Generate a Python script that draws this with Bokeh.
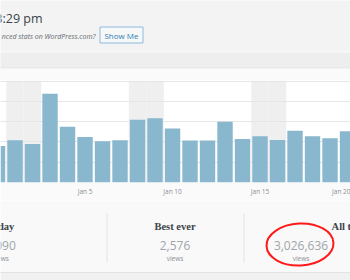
from bokeh.plotting import figure
from bokeh.layouts import column
from bokeh.models import Range1d, FixedTicker, BoxAnnotation, Label, Grid
from bokeh.core.properties import value
from bokeh.embed import file_html
from bokeh.resources import INLINE

# ---- data ----
days = ["Dec 31", "Jan 1", "Jan 2", "Jan 3", "Jan 4", "Jan 5", "Jan 6", "Jan 7",
        "Jan 8", "Jan 9", "Jan 10", "Jan 11", "Jan 12", "Jan 13", "Jan 14",
        "Jan 15", "Jan 16", "Jan 17", "Jan 18", "Jan 19", "Jan 20"]
views = [900, 1042, 950, 2192, 1375, 1125, 1017, 1042, 1550, 1585, 1335,
         1035, 1035, 1500, 1075, 1142, 1050, 1275, 1142, 1092, 1267]
weekend_days = ["Jan 1", "Jan 2", "Jan 8", "Jan 9", "Jan 15", "Jan 16"]
tick_days = ["Dec 31", "Jan 5", "Jan 10", "Jan 15", "Jan 20"]
y_ticks = [0, 500, 1000, 1500, 2000, 2500]

header_time = "3:29 pm"
promo_text = "nced stats on WordPress.com?"
button_text = "Show Me"
summary_titles = ["Today", "Best ever", "All time"]
summary_values = ["1,090", "2,576", "3,026,636"]
summary_units = ["views", "views", "views"]

W = 350
FONT = value("Open Sans")

# ---- header strip ----
h = figure(width=W, height=80, x_range=Range1d(0, W), y_range=Range1d(80, 0),
           toolbar_location=None, output_backend="svg", min_border=0,
           x_axis_location=None, y_axis_location=None)
h.grid.visible = False
h.outline_line_color = None
h.background_fill_color = "#f3f3f3"
h.border_fill_color = "#f3f3f3"
h.quad(left=[0, 0, 0, 0], right=[W] * 4, top=[51, 52, 67, 68], bottom=[52, 67, 68, 80],
       fill_color=["#ffffff", "#eeeeee", "#e2e2e2", "#fafafa"], line_color=None)
h.text(x=[42], y=[17.5], text=[header_time], text_align="right", text_baseline="alphabetic",
       text_font=FONT, text_font_size=value("12.5px"), text_color="#3c434a")
h.text(x=[95], y=[36], text=[promo_text], text_align="right", text_baseline="alphabetic",
       text_font=FONT, text_font_style="italic", text_font_size=value("7px"),
       text_color="#646970")
h.quad(left=[99.5], right=[142.5], top=[26.5], bottom=[42.5], fill_color="#f6f7f7",
       line_color="#8dbbe0", line_width=1)
h.text(x=[121], y=[34.5], text=[button_text], text_align="center", text_baseline="middle",
       text_font=FONT, text_font_size=value("8px"), text_color="#2e7fb3")

# ---- chart ----
idx = list(range(len(days)))
c = figure(width=W, height=120, x_range=Range1d(0.17, 20.17), y_range=Range1d(0, 2517),
           toolbar_location=None, output_backend="svg",
           min_border_left=0, min_border_right=0, min_border_top=0, min_border_bottom=18,
           y_axis_location=None)
c.outline_line_color = None
c.background_fill_color = "#ffffff"
c.border_fill_color = "#fafafa"
c.xgrid.visible = False
c.add_layout(Grid(dimension=1, ticker=FixedTicker(ticks=y_ticks),
                  grid_line_color="#e6e6e6", grid_line_width=1))
for d in weekend_days:
    i = days.index(d)
    c.add_layout(BoxAnnotation(left=i - 0.5, right=i + 0.5, fill_color="#efefef",
                               fill_alpha=1, line_color=None, level="image"))
c.vbar(x=idx, top=views, width=0.88, bottom=0, fill_color="#89b7cd", line_color=None)

tick_pos = [days.index(d) for d in tick_days]
c.xaxis.ticker = FixedTicker(ticks=tick_pos)
c.xaxis.major_label_overrides = {p: d for p, d in zip(tick_pos, tick_days)}
c.xaxis.axis_line_color = None
c.xaxis.major_tick_line_color = None
c.xaxis.minor_tick_line_color = None
c.xaxis.major_tick_out = 0
c.xaxis.major_tick_in = 0
c.xaxis.major_label_standoff = 4
c.xaxis.major_label_text_font = "Open Sans"
c.xaxis.major_label_text_font_size = "6.5px"
c.xaxis.major_label_text_color = "#8c8f94"
c.add_layout(Label(x=tick_pos[0], y=-99, text=tick_days[0], text_align="center",
                   text_baseline="top", text_font="Open Sans", text_font_size="6.5px",
                   text_color="#8c8f94"))

# ---- summary ----
s = figure(width=W, height=80, x_range=Range1d(0, W), y_range=Range1d(280, 200),
           toolbar_location=None, output_backend="svg", min_border=0,
           x_axis_location=None, y_axis_location=None)
s.grid.visible = False
s.outline_line_color = None
s.background_fill_color = "#f9f9f9"
s.border_fill_color = "#f9f9f9"
s.quad(left=[0], right=[W], top=[272], bottom=[280], fill_color="#f1f1f1", line_color=None)
s.segment(x0=[0], y0=[272], x1=[W], y1=[272], line_color="#e2e2e2")
s.segment(x0=[106.5, 243.5], y0=[213, 213], x1=[106.5, 243.5], y1=[262, 262],
          line_color="#e3e3e3")
title_x = [0, 174.5, 349]
value_x = [0, 174.5, 300.5]
s.text(x=title_x, y=[225.5] * 3, text=summary_titles, text_align="center",
       text_baseline="alphabetic", text_font=value("Liberation Serif"),
       text_font_style="bold", text_font_size=value("10.5px"), text_color="#3c434a")
s.text(x=value_x, y=[244.5] * 3, text=summary_values, text_align="center",
       text_baseline="alphabetic", text_font=FONT, text_font_size=value("12px"),
       text_color="#a0a5aa")
s.text(x=value_x, y=[257.5] * 3, text=summary_units, text_align="center",
       text_baseline="alphabetic", text_font=FONT, text_font_size=value("6.5px"),
       text_color="#8c8f94")
s.ellipse(x=[299.5], y=[244], width=67, height=42, angle=0.05, fill_color=None,
          line_color="#ff1a1a", line_width=2)

layout = column(h, c, s, spacing=0)
open("out.html", "w").write(file_html(layout, INLINE))
